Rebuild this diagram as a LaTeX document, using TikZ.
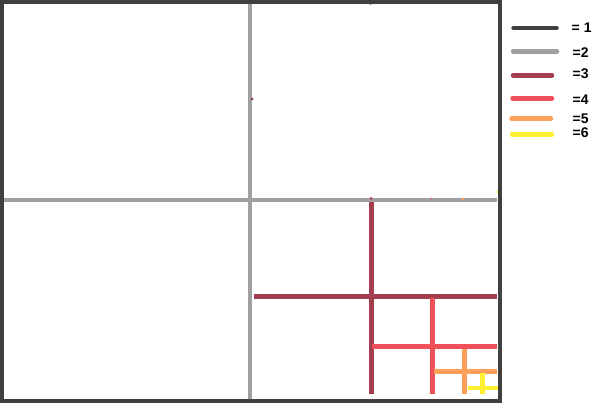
\documentclass[tikz,border=0pt]{standalone}
\usepackage{fontspec}
\setmainfont{Liberation Sans}
\begin{document}
\begin{tikzpicture}[x=1pt,y=-1pt,
  lv1/.style={draw=c1,line width=4pt},
  lv2/.style={draw=c2,line width=4pt},
  lv3/.style={draw=c3,line width=4.5pt},
  lv4/.style={draw=c4,line width=4.5pt},
  lv5/.style={draw=c5,line width=4.5pt},
  lv6/.style={draw=c6,line width=4.5pt},
  leg/.style={line width=4.5pt,line cap=round},
  lab/.style={anchor=west,font=\bfseries\fontsize{14}{14}\selectfont,inner sep=0pt,text=black},
  dot/.style={inner sep=0pt,minimum size=3pt,circle}]
\definecolor{c1}{RGB}{64,64,64}
\definecolor{c2}{RGB}{160,160,160}
\definecolor{c3}{RGB}{163,62,78}
\definecolor{c4}{RGB}{240,80,88}
\definecolor{c5}{RGB}{255,160,90}
\definecolor{c6}{RGB}{255,240,50}
\useasboundingbox[fill=white] (0,0) rectangle (616,420);
% level 2
\draw[lv2] (250.3,4) -- (250.3,399);
\draw[lv2] (4,200) -- (497,200);
% level 3
\draw[lv3] (371.3,202) -- (371.3,394);
\draw[lv3] (254,296.3) -- (497,296.3);
% level 4
\draw[lv4] (432.3,298) -- (432.3,394);
\draw[lv4] (372,346.7) -- (497,346.7);
% level 5
\draw[lv5] (464.3,348.5) -- (464.3,394);
\draw[lv5] (434,371.3) -- (497,371.3);
% level 6
\draw[lv6] (482.3,372.5) -- (482.3,394);
\draw[lv6] (467.5,387.8) -- (499,387.8);
% small marks
\node[dot,fill=c3] (m1) at (370.5,3.5) {};
\node[dot,fill=c3] (m2) at (252,99) {};
\node[dot,fill=c3] (m3) at (371,198.5) {};
\node[dot,fill=c4,minimum size=2pt] (m4) at (431,198.5) {};
\node[dot,fill=c5] (m5) at (463,199) {};
\node[inner sep=0pt,minimum width=1.5pt,minimum height=3pt,fill=c6] (m6) at (498.2,191) {};
% level 1 border
\draw[lv1] (2,2) rectangle (499.5,400.5);
% legend
\draw[leg,c1] (513.5,28) coordinate (a1) -- (556.5,28) coordinate (b1);
\draw[leg,c2] (513,51.3) coordinate (a2) -- (557,51.3) coordinate (b2);
\draw[leg,c3] (513,75.3) coordinate (a3) -- (552,75.3) coordinate (b3);
\draw[leg,c4] (512.5,98.3) coordinate (a4) -- (552,98.3) coordinate (b4);
\draw[leg,c5] (511.5,118.3) coordinate (a5) -- (551,118.3) coordinate (b5);
\draw[leg,c6] (512,134.3) coordinate (a6) -- (552,134.3) coordinate (b6);
\node[lab] (t1) at (571.5,27.5) {= 1};
\node[lab] (t2) at (572.5,52.5) {=2};
\node[lab] (t3) at (572.5,74) {=3};
\node[lab] (t4) at (572.5,99.5) {=4};
\node[lab] (t5) at (572.5,119) {=5};
\node[lab] (t6) at (572.5,133) {=6};
\end{tikzpicture}
\end{document}
